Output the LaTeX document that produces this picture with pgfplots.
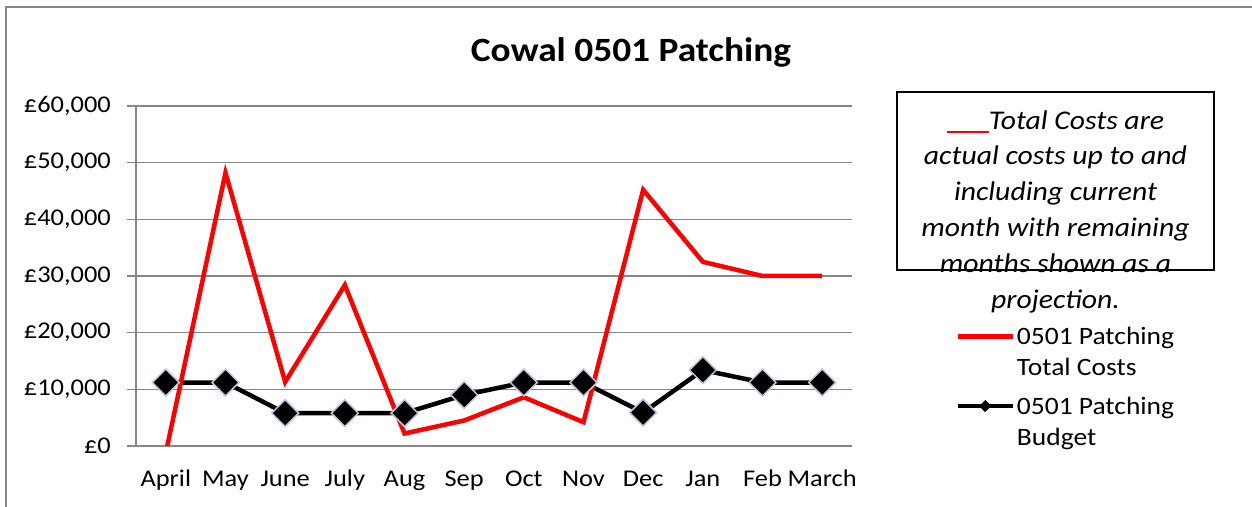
\documentclass[border=0pt]{standalone}
\usepackage{pgfplots}
\pgfplotsset{compat=1.18}
\usepackage{fontspec}
\setmainfont{Carlito}[FakeStretch=1.1]
\definecolor{gridgray}{rgb}{0.53,0.53,0.53}
\definecolor{mborder}{rgb}{0.72,0.78,0.87}
\begin{document}
\begin{tikzpicture}[x=1bp,y=1bp]
\path[use as bounding box] (0,0) rectangle (1252,507);
\draw[gridgray, line width=2.5bp] (6,0) -- (6,500) -- (1252,500);
\node[font=\fontsize{34bp}{40bp}\selectfont\bfseries, anchor=base] at (631,445.3) {Cowal 0501 Patching};
\begin{axis}[at={(136bp,61bp)}, anchor=south west, scale only axis, width=716bp, height=340bp,
 xmin=-0.5, xmax=11.5, ymin=0, ymax=60000,
 axis x line*=bottom, axis y line*=left,
 axis line style={gridgray, line width=1.3bp, -},
 xtick={0,...,11},
 xticklabels={April,May,June,July,Aug,Sep,Oct,Nov,Dec,Jan,Feb,March},
 ytick={0,10000,20000,30000,40000,50000,60000},
 yticklabels={£0,{£10,000},{£20,000},{£30,000},{£40,000},{£50,000},{£60,000}},
 ymajorgrids, grid style={gridgray, line width=1.3bp},
 major tick length=9bp, tick align=outside,
 tick style={gridgray, line width=1.3bp},
 xtick style={draw=none},
 tick label style={font=\fontsize{24bp}{28bp}\selectfont, text=black},
 xticklabel style={anchor=base, yshift=-32bp, inner sep=0pt},
 yticklabel style={anchor=east, inner sep=0pt, xshift=-16bp},
 scaled y ticks=false,
 legend style={at={(1.140,0.362)}, anchor=north west, draw=none, fill=none,
   font=\fontsize{25bp}{31bp}\selectfont, nodes={align=left, inner sep=2bp}, row sep=15.7bp},
 legend cell align=left,
 legend image code/.code={\draw[#1] (0bp,15.5bp) -- (55bp,15.5bp);},
]
\addplot[black, line width=4.5bp, forget plot] coordinates {(0,11200)(1,11200)(2,5800)(3,5800)(4,5800)(5,9000)(6,11200)(7,11200)(8,5900)(9,13400)(10,11200)(11,11200)};
\addplot[red, line width=4.5bp] coordinates {(0,-1200)(1,48200)(2,11300)(3,28400)(4,2200)(5,4500)(6,8600)(7,4200)(8,45200)(9,32500)(10,30000)(11,30000)};
\addlegendentry{0501 Patching\\Total Costs}
\addplot[black, only marks, mark=square*, mark size=9.5bp, mark options={rotate=45, draw=mborder, fill=black, line width=1.5bp},
  legend image code/.code={\draw[black, line width=4.5bp] (0bp,15.5bp) -- (55bp,15.5bp); \fill[black, rotate around={45:(27.5bp,15.5bp)}] (23.5bp,11.5bp) rectangle (31.5bp,19.5bp);}]
 coordinates {(0,11200)(1,11200)(2,5800)(3,5800)(4,5800)(5,9000)(6,11200)(7,11200)(8,5900)(9,13400)(10,11200)(11,11200)};
\addlegendentry{0501 Patching\\Budget}
\end{axis}
\begin{scope}[font=\fontsize{27bp}{33bp}\selectfont\itshape]
\node[anchor=base] at (1055.5,377) {{\color{red}\rule[-3bp]{42bp}{1.5bp}}Total Costs are};
\node[anchor=base] at (1055.5,342) {actual costs up to and};
\node[anchor=base] at (1055.5,306.3) {including current};
\node[anchor=base] at (1055.5,270.3) {month with remaining};
\node[anchor=base] at (1055.5,234.3) {months shown as a};
\node[anchor=base] at (1055.5,198) {projection.};
\end{scope}
\draw[black, line width=2bp] (897,415) rectangle (1214,237);
\end{tikzpicture}
\end{document}
